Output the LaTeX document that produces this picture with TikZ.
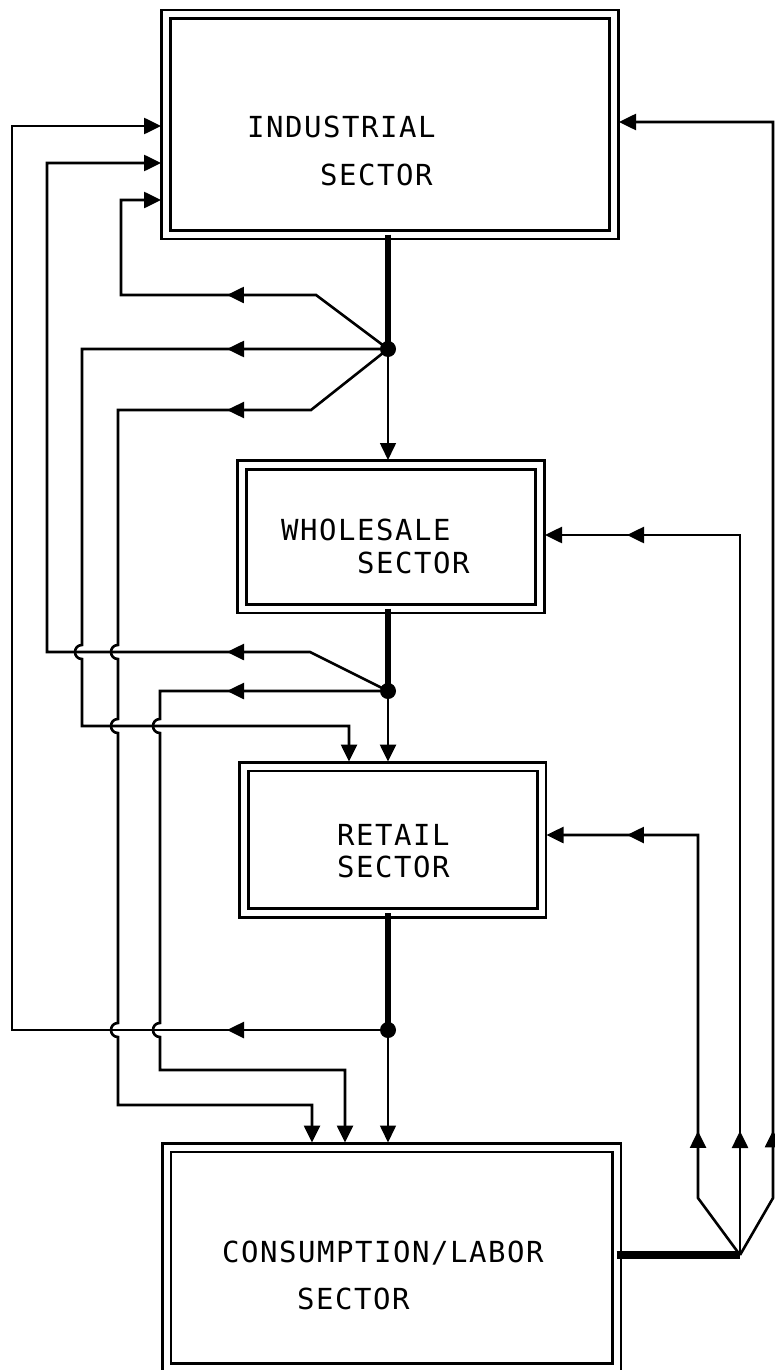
\documentclass[tikz,border=0pt]{standalone}
\usepackage{fontspec}
\newfontfamily\typefont[LetterSpace=5.3]{DejaVu Sans Mono}
\usetikzlibrary{arrows.meta,decorations.markings,calc}
\begin{document}
\begin{tikzpicture}[x=1pt,y=-1pt,
  tri/.tip={Triangle[length=17pt,width=16pt]},
  sector/.style={draw, double, double distance=6pt, line width=2.6pt, outer sep=0pt, inner sep=0pt},
  lbl/.style={font=\typefont\fontsize{29}{29}\selectfont, inner sep=0pt, anchor=base west},
  flow/.style={line width=2.6pt},
  thinflow/.style={line width=1.6pt},
  heavyflow/.style={line width=6.5pt},
  arrowat/.style={postaction={decorate, decoration={markings, mark=at position #1 with {\arrow{tri}}}}},
  into/.style={-{tri}, shorten >=5pt},
  junction/.style={circle, fill, inner sep=0pt, minimum size=16pt}]
\useasboundingbox (0,0) rectangle (775,1370);

% sector boxes
\node[sector, minimum width=448pt, minimum height=220pt] (ind) at (390,124.5) {};
\node[sector, minimum width=298pt, minimum height=143.5pt] (ws) at (391,536.75) {};
\node[sector, minimum width=297.5pt, minimum height=146.5pt] (rt) at (392.75,839.75) {};
\node[sector, minimum width=450pt, minimum height=220.5pt] (cons) at (391.5,1257.75) {};

% labels
\node[lbl] (t1) at (247,137) {INDUSTRIAL};
\node[lbl] (t2) at (320,185) {SECTOR};
\node[lbl] (t3) at (281,540) {WHOLESALE};
\node[lbl] (t4) at (357,573) {SECTOR};
\node[lbl] (t5) at (337,845) {RETAIL};
\node[lbl] (t6) at (337,877) {SECTOR};
\node[lbl] (t7) at (222,1262) {CONSUMPTION/LABOR};
\node[lbl] (t8) at (297,1309) {SECTOR};

% junction points
\coordinate (d1) at (388,349);
\coordinate (d2) at (388,691);
\coordinate (d3) at (388,1030);
\coordinate (sp) at (740,1255);

% corner points
\coordinate (aA1) at (316,295); \coordinate (aA2) at (121,295); \coordinate (aA3) at (121,200);
\coordinate (bB1) at (82,349);  \coordinate (bB2) at (82,726);  \coordinate (bB3) at (349,726);
\coordinate (cC1) at (311,410); \coordinate (cC2) at (118,410); \coordinate (cC3) at (118,1105); \coordinate (cC4) at (312,1105);
\coordinate (dD1) at (310,652); \coordinate (dD2) at (47,652);  \coordinate (dD3) at (47,163);
\coordinate (eE1) at (160,691); \coordinate (eE2) at (160,1070); \coordinate (eE3) at (345,1070);
\coordinate (fF1) at (12,1030); \coordinate (fF2) at (12,126);
\coordinate (gG1) at (698,1198); \coordinate (gG2) at (698,835);
\coordinate (hH1) at (740,535);
\coordinate (iI1) at (773,1198); \coordinate (iI2) at (773,122);

% industrial outputs
\draw[heavyflow] (ind.south -| d1) -- (d1);
\draw[flow, into, arrowat=179pt] (d1) -- (aA1) -- (aA2) -- (aA3) -- (aA3 -| ind.west);
\draw[flow, into, arrowat=161pt] (d1) -- (bB1)
  -- (82,645) .. controls (72.7,645) and (72.7,659) .. (82,659)
  -- (bB2) -- (bB3) -- (bB3 |- rt.north);
\draw[flow, into, arrowat=182.2pt] (d1) -- (cC1) -- (cC2)
  -- (118,645) .. controls (108.7,645) and (108.7,659) .. (118,659)
  -- (118,719) .. controls (108.7,719) and (108.7,733) .. (118,733)
  -- (118,1023) .. controls (108.7,1023) and (108.7,1037) .. (118,1037)
  -- (cC3) -- (cC4) -- (cC4 |- cons.north);
\draw[thinflow, into] (d1) -- (d1 |- ws.north);

% wholesale outputs
\draw[heavyflow] (ws.south -| d2) -- (d2);
\draw[flow, into, arrowat=170.2pt] (d2) -- (dD1) -- (dD2) -- (dD3) -- (dD3 -| ind.west);
\draw[flow, into, arrowat=161pt] (d2) -- (eE1)
  -- (160,719) .. controls (150.7,719) and (150.7,733) .. (160,733)
  -- (160,1023) .. controls (150.7,1023) and (150.7,1037) .. (160,1037)
  -- (eE2) -- (eE3) -- (eE3 |- cons.north);
\draw[flow, into] (d2) -- (d2 |- rt.north);

% retail outputs
\draw[heavyflow] (rt.south -| d3) -- (d3);
\draw[flow, into, arrowat=161pt] (d3) -- (fF1) -- (fF2) -- (fF2 -| ind.west);
\draw[thinflow, into] (d3) -- (d3 |- cons.north);

% consumption/labor outputs
\draw[line width=7.5pt] (cons.east |- sp) -- (sp);
\draw[flow, into, arrowat=137.8pt, arrowat=504.8pt] (sp) -- (gG1) -- (gG2) -- (gG2 -| rt.east);
\draw[flow, into, arrowat=124pt, arrowat=833pt] (sp) -- (hH1) -- (hH1 -| ws.east);
\draw[flow, into, arrowat=133.4pt] (sp) -- (iI1) -- (iI2) -- (iI2 -| ind.east);

% junction dots
\node[junction] (j1) at (d1) {};
\node[junction] (j2) at (d2) {};
\node[junction] (j3) at (d3) {};
\end{tikzpicture}
\end{document}
